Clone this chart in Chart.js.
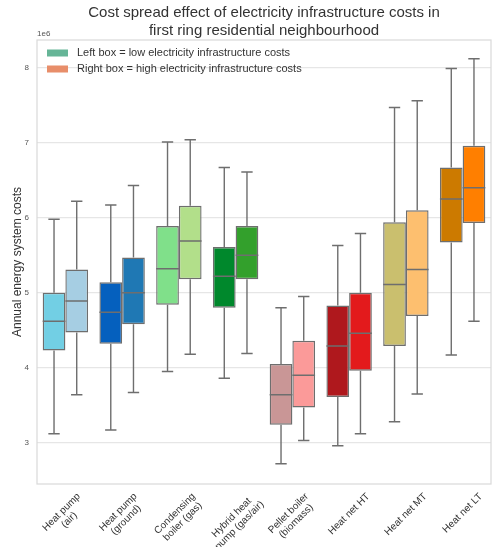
<!DOCTYPE html>
<html>
<head>
<meta charset="utf-8">
<script src="https://cdn.jsdelivr.net/npm/chart.js@4.4.1/dist/chart.umd.min.js"></script>
<style>
  html, body { margin: 0; padding: 0; background: #fff; }
  #wrap { width: 492px; height: 547px; }
</style>
</head>
<body>
<div id="wrap"><canvas id="chart"></canvas></div>
<script>
// values in millions (axis shows 1e6 offset)
const categories = [
    ['Heat pump', '(air)'],
    ['Heat pump', '(ground)'],
    ['Condensing', 'boiler (gas)'],
    ['Hybrid heat', 'pump (gas/air)'],
    ['Pellet boiler', '(biomass)'],
    ['Heat net HT'],
    ['Heat net MT'],
    ['Heat net LT']
];

// left box = low electricity infrastructure costs
const lowMin = [3.12, 3.17, 3.95, 3.86, 2.72, 2.96, 3.28, 4.17];
const lowQ1 = [4.23, 4.32, 4.84, 4.80, 3.24, 3.61, 4.29, 5.67];
const lowMedian = [4.62, 4.74, 5.32, 5.22, 3.64, 4.29, 5.11, 6.25];
const lowQ3 = [5.00, 5.14, 5.89, 5.61, 4.05, 4.83, 5.94, 6.67];
const lowMax = [5.98, 6.17, 7.01, 6.67, 4.80, 5.63, 7.47, 7.99];

// right box = high electricity infrastructure costs
const highMin = [3.64, 3.67, 4.18, 4.19, 3.03, 3.12, 3.65, 4.62];
const highQ1 = [4.47, 4.58, 5.18, 5.18, 3.47, 3.96, 4.69, 5.93];
const highMedian = [4.89, 5.00, 5.69, 5.50, 3.90, 4.46, 5.31, 6.40];
const highQ3 = [5.31, 5.47, 6.16, 5.89, 4.36, 5.00, 6.10, 6.96];
const highMax = [6.22, 6.43, 7.04, 6.61, 4.95, 5.79, 7.56, 8.12];

const lowColors = ['#72cfe4', '#0560be', '#80e08a', '#00882c', '#c99696', '#af181d', '#cabf6e', '#cc7a00'];
const highColors = ['#a6cee3', '#1f78b4', '#b2df8a', '#33a02c', '#fb9a99', '#e31a1c', '#fdbf6f', '#ff7f00'];

const legendLabels = ['Left box = low electricity infrastructure costs', 'Right box = high electricity infrastructure costs'];
const legendColors = ['#66b597', '#e88e6a'];

const yTicks = [3, 4, 5, 6, 7, 8];

const FONT = "'Liberation Sans', Arial, sans-serif";
const EDGE = '#6e6e6e';

const stats = [
    {min: lowMin, q1: lowQ1, med: lowMedian, q3: lowQ3, max: lowMax},
    {min: highMin, q1: highQ1, med: highMedian, q3: highQ3, max: highMax}
];

// whiskers, caps and medians drawn on top of the floating bars
const boxPlotPlugin = {
    id: 'boxPlot',
    afterDatasetsDraw(chart) {
        const ctx = chart.ctx;
        const y = chart.scales.y;
        ctx.save();
        ctx.strokeStyle = EDGE;
        ctx.lineWidth = 1.4;
        stats.forEach((s, di) => {
            chart.getDatasetMeta(di).data.forEach((bar, i) => {
                const x = bar.x;
                const half = bar.width / 2;
                const cap = bar.width / 4;
                const yMax = y.getPixelForValue(s.max[i]);
                const yMin = y.getPixelForValue(s.min[i]);
                ctx.beginPath();
                ctx.moveTo(x, y.getPixelForValue(s.q3[i]));
                ctx.lineTo(x, yMax);
                ctx.moveTo(x - cap, yMax);
                ctx.lineTo(x + cap, yMax);
                ctx.moveTo(x, y.getPixelForValue(s.q1[i]));
                ctx.lineTo(x, yMin);
                ctx.moveTo(x - cap, yMin);
                ctx.lineTo(x + cap, yMin);
                ctx.moveTo(x - half, y.getPixelForValue(s.med[i]));
                ctx.lineTo(x + half, y.getPixelForValue(s.med[i]));
                ctx.stroke();
            });
        });
        ctx.restore();
    }
};

// frame, legend, 1e6 offset text and rotated, centred category labels
const decorPlugin = {
    id: 'decor',
    beforeDatasetsDraw(chart) {
        const {ctx, chartArea} = chart;
        ctx.save();
        ctx.strokeStyle = '#d9d9d9';
        ctx.lineWidth = 1.2;
        ctx.strokeRect(chartArea.left, chartArea.top, chartArea.right - chartArea.left, chartArea.bottom - chartArea.top);

        // legend sits inside the plot, behind the boxes
        ctx.font = '11px ' + FONT;
        ctx.textAlign = 'left';
        ctx.textBaseline = 'middle';
        legendLabels.forEach((t, i) => {
            const cy = chartArea.top + 13 + i * 16;
            ctx.fillStyle = legendColors[i];
            ctx.fillRect(chartArea.left + 10, cy - 3.5, 21, 7);
            ctx.fillStyle = '#333';
            ctx.fillText(t, chartArea.left + 40, cy);
        });
        ctx.restore();
    },
    afterDraw(chart) {
        const {ctx, chartArea} = chart;
        const x = chart.scales.x;
        ctx.save();
        ctx.fillStyle = '#555';
        ctx.font = '8px ' + FONT;
        ctx.textAlign = 'left';
        ctx.textBaseline = 'bottom';
        ctx.fillText('1e6', chartArea.left, chartArea.top - 2);

        ctx.fillStyle = '#333';
        ctx.font = '10px ' + FONT;
        ctx.textAlign = 'center';
        ctx.textBaseline = 'middle';
        const lh = 11;
        categories.forEach((lines, i) => {
            const w = Math.max(...lines.map(l => ctx.measureText(l).width));
            const h = lines.length * lh;
            const boxH = (w + h) * Math.SQRT1_2;
            const cx = x.getPixelForValue(i);
            const cy = chartArea.bottom + 7 + boxH / 2;
            ctx.save();
            ctx.translate(cx, cy);
            ctx.rotate(-Math.PI / 4);
            lines.forEach((l, j) => {
                ctx.fillText(l, 0, (j - (lines.length - 1) / 2) * lh);
            });
            ctx.restore();
        });
        ctx.restore();
    }
};

new Chart(document.getElementById('chart'), {
    type: 'bar',
    plugins: [boxPlotPlugin, decorPlugin],
    data: {
        labels: categories.map(c => c.join(' ')),
        datasets: [
            {
                label: legendLabels[0],
                data: lowQ1.map((v, i) => [v, lowQ3[i]]),
                backgroundColor: lowColors,
                borderColor: EDGE,
                borderWidth: 1.4,
                borderSkipped: false
            },
            {
                label: legendLabels[1],
                data: highQ1.map((v, i) => [v, highQ3[i]]),
                backgroundColor: highColors,
                borderColor: EDGE,
                borderWidth: 1.4,
                borderSkipped: false
            }
        ]
    },
    options: {
        responsive: true,
        maintainAspectRatio: false,
        animation: false,
        devicePixelRatio: 1,
        categoryPercentage: 0.8,
        barPercentage: 1.0,
        layout: {padding: {left: 0, right: 1, top: 0, bottom: 0}},
        scales: {
            x: {
                offset: true,
                grid: {display: false},
                border: {display: false},
                ticks: {display: false},
                afterFit: s => { s.height = 63; }
            },
            y: {
                min: 2.45,
                max: 8.37,
                afterBuildTicks: s => { s.ticks = yTicks.map(v => ({value: v})); },
                afterFit: s => { s.width = 37; },
                grid: {color: '#e6e6e6', lineWidth: 1.2, drawTicks: false},
                border: {display: false},
                ticks: {
                    color: '#555',
                    padding: 8,
                    font: {family: FONT, size: 8}
                },
                title: {
                    display: true,
                    text: 'Annual energy system costs',
                    color: '#333',
                    font: {family: FONT, size: 12},
                    padding: {top: 10, bottom: 0}
                }
            }
        },
        plugins: {
            title: {
                display: true,
                fullSize: false,
                text: ['Cost spread effect of electricity infrastructure costs in', 'first ring residential neighbourhood'],
                color: '#333',
                font: {family: FONT, size: 15, weight: 'normal', lineHeight: 1.2},
                padding: {top: 4, bottom: 0}
            },
            legend: {display: false},
            tooltip: {enabled: false}
        }
    }
});
</script>
</body>
</html>
